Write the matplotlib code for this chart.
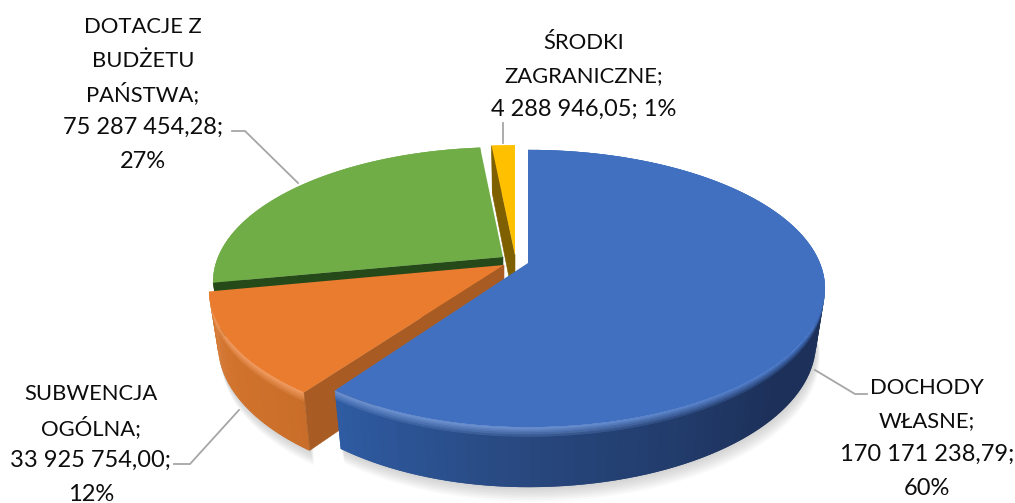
import matplotlib
matplotlib.use('Agg')
import matplotlib.pyplot as plt
import matplotlib.colors as mc
from matplotlib.patches import Polygon
import numpy as np

plt.rcParams['font.family'] = ['Lato', 'DejaVu Sans']

# the data
names = ['DOCHODY\nWŁASNE;', 'SUBWENCJA\nOGÓLNA;', 'DOTACJE Z\nBUDŻETU\nPAŃSTWA;', 'ŚRODKI\nZAGRANICZNE;']
values = [170171238.79, 33925754.00, 75287454.28, 4288946.05]
value_labels = ['170 171 238,79;\n60%', '33 925 754,00;\n12%', '75 287 454,28;\n27%', '4 288 946,05; 1%']

# slice looks, same order as values
top_cols = ['#4170c0', '#ea7c30', '#70ad47', '#ffc000']
face_cols = [None, '#a85b22', '#26491a', '#7f6000']
side_stops = [
    [(0, '#1b2e56'), (130, '#1c3059'), (180, '#28487f'), (216, '#2f5ca4')],
    [(216, '#c96e2a'), (260, '#d9772e')],
    [(0, '#3f6a28'), (360, '#3f6a28')],
    [(0, '#a07a00'), (360, '#a07a00')],
]
offsets = [(0, 0), (-24, 2), (-25, -6), (-13, -8)]
bx_left = [280, 290, 285, 292]
ry_all = [134, 134, 130, 130]

cx, cy = 528, 263
bx_right = 292
persp = 0.184
depth = 52.5
z_shrink = 0.03
z_rows = [0, 0.015, 0.03, 0.05, 0.075, 0.11, 0.15, 1]

fig = plt.figure(figsize=(10.15, 5.03), dpi=100, facecolor='white')
ax = fig.add_axes([0, 0, 1, 1])
ax.set_xlim(0, 1015)
ax.set_ylim(503, 0)
ax.axis('off')


def proj(ang, i, r=1.0, z=0.0):
    a = np.radians(ang)
    u, v = np.sin(a) * r, -np.cos(a) * r
    s = 1 / (1 - persp * v)
    b = np.where(u > 0, bx_right, bx_left[i])
    shrink = 1 - z_shrink * z
    x = cx + offsets[i][0] + b * u * s * shrink
    y = cy + offsets[i][1] + ry_all[i] * v * s * shrink + z * depth * s
    return x, y


def side_col(i, ang):
    st = side_stops[i]
    rgb = np.array([mc.to_rgb(c) for _, c in st])
    xs = [a for a, _ in st]
    return np.array([np.interp(ang, xs, rgb[:, k]) for k in range(3)])


def wall_col(i, ang, z):
    # rounded edge: from the top colour (a bit lighter at the front) into the wall colour
    t = min(z / z_rows[-2], 1)
    top = np.array(mc.to_rgb(top_cols[i]))
    fade = np.clip((ang - 120) / 60, 0, 1)
    light = top + (1 - top) * 0.22 * fade
    return tuple(light * (1 - t) + side_col(i, ang) * t)


total = sum(values)
ends = np.cumsum(values) / total * 360
starts = np.r_[0, ends[:-1]]

# soft shadow under the front of the pie
for grow in np.linspace(1, 15, 10):
    for i in [0, 1]:
        aa = np.linspace(max(starts[i], 60), ends[i], 80)
        x, y = proj(aa, i, z=1)
        xs = np.r_[x, x[::-1]]
        ys = np.r_[y + grow, y[::-1] - 30]
        ax.add_patch(Polygon(np.c_[xs + grow * 0.25, ys], closed=True, fc='#808080', ec='none', alpha=0.04, zorder=1))

# back to front: yellow, green, orange, blue
for zo, i in enumerate([3, 2, 1, 0]):
    base = 2 + zo * 3
    aa = np.linspace(starts[i], ends[i], 120)

    # outer wall, small overlapping cells for the gradient
    for r0, r1 in zip(z_rows[:-1][::-1], z_rows[1:][::-1]):
        x0, y0 = proj(aa, i, z=r0)
        x1, y1 = proj(aa, i, z=r1 + 0.01)
        for j in range(len(aa) - 1):
            k = min(j + 2, len(aa) - 1)
            quad = [(x0[j], y0[j]), (x0[k], y0[k]), (x1[k], y1[k]), (x1[j], y1[j])]
            ax.add_patch(Polygon(quad, closed=True, fc=wall_col(i, aa[j], r0), ec='none', zorder=base))

    # cut wall
    if face_cols[i] is not None:
        ox, oy = proj(starts[i], i)
        bx, by = proj(starts[i], i, z=1)
        ax0, ay0 = proj(0, i, r=0)
        ax1, ay1 = proj(0, i, r=0, z=1)
        ax.add_patch(Polygon([(ax0, ay0), (ox, oy), (bx, by), (ax1, ay1)], closed=True,
                             fc=face_cols[i], ec=face_cols[i], lw=0.4, zorder=base + 1))

    # top
    x0, y0 = proj(aa, i)
    ap = proj(0, i, r=0)
    ax.add_patch(Polygon(np.r_[[ap], np.c_[x0, y0]], closed=True, fc=top_cols[i], ec='none', zorder=base + 2))

# leader lines
leaders = [
    ([815, 855, 867], [370, 394, 394]),
    ([239, 190, 174], [410, 464, 464]),
    ([298, 245, 232], [183, 131, 131]),
    ([503, 503], [143, 123]),
]
for lx, ly in leaders:
    ax.plot(lx, ly, color='#a6a6a6', lw=1.3, zorder=20, solid_joinstyle='miter')

# labels, line by line: the caps of Lato run wider than the digits
label_pos = [(927, 436), (91, 442), (143, 92), (584, 74)]
line_gap = 33.5
for name, val, (tx, ty) in zip(names, value_labels, label_pos):
    lines = name.split('\n') + val.split('\n')
    for k, line in enumerate(lines):
        y = ty + (k - (len(lines) - 1) / 2) * line_gap
        size = 17 if line[0].isdigit() else 15.8
        ax.text(tx, y, line, ha='center', va='center_baseline', fontsize=size, color='#0d0d0d', zorder=21)

fig.savefig('out.png', dpi=100)
